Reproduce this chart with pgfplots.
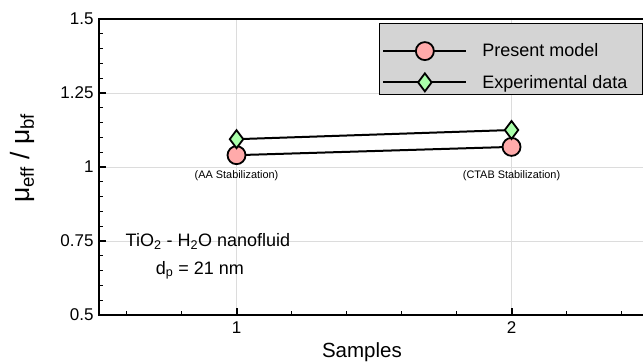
\documentclass[border=0pt]{standalone}
\usepackage{pgfplots}
\pgfplotsset{compat=1.18}
\usepackage{fontspec}
\setmainfont{Liberation Sans}
\definecolor{pinkfill}{RGB}{255,170,170}
\definecolor{greenfill}{RGB}{170,255,170}
\definecolor{legfill}{RGB}{212,212,212}
\definecolor{gridc}{RGB}{220,220,220}
\begin{document}
\begin{tikzpicture}
\begin{axis}[
  scale only axis,
  width=550pt, height=296pt,
  xmin=0.5, xmax=2.5, ymin=0.5, ymax=1.5,
  xtick={1,2},
  minor xtick={0.6,0.8,1.2,1.4,1.6,1.8,2.2,2.4},
  ytick={0.5,0.75,1,1.25,1.5},
  minor ytick={0.55,0.6,0.65,0.7,0.8,0.85,0.9,0.95,1.05,1.1,1.15,1.2,1.3,1.35,1.4,1.45},
  xtick pos=bottom, ytick pos=left,
  /pgf/number format/assume math mode=true,
  tick label style={font=\fontsize{17}{20}\selectfont},
  yticklabel style={xshift=-2pt},
  xticklabel style={yshift=-3pt},
  tick align=inside,
  major tick length=7pt,
  minor tick length=4pt,
  every major tick/.style={line width=2pt, black},
  every minor tick/.style={line width=1.2pt, black},
  axis line style={line width=2.5pt},
  grid=major,
  major grid style={gridc, line width=1pt},
  xlabel={Samples},
  ylabel={μ\textsubscript{eff} / μ\textsubscript{bf}},
  xlabel style={font=\fontsize{20.5}{24}\selectfont, at={(axis description cs:0.478,-0.142)}, anchor=base},
  ylabel style={font=\fontsize{26.5}{30}\selectfont, at={(axis description cs:-0.14,0.53)}, anchor=center, rotate=0},
  legend style={at={(axis description cs:0.509,0.9875)}, anchor=north west,
    fill=legfill, draw=black, line width=0.8pt,
    font=\fontsize{18}{21}\selectfont, row sep=-3pt, column sep=13pt,
    inner xsep=3pt, inner ysep=3pt},
  legend cell align=left,
  legend image code/.code={
    \path (0pt,24pt);
    \draw[mark repeat=2, mark phase=2, #1, line width=2pt] plot coordinates {(0pt,0pt) (41.5pt,0pt) (83pt,0pt)};
  },
  clip=false,
]
\addplot[black, line width=2pt, mark=*, mark size=9pt,
  mark options={fill=pinkfill, draw=black, line width=1.8pt}]
  coordinates {(1,1.040) (2,1.068)};
\addlegendentry{Present model}
\addplot[black, line width=2pt, mark=diamond*, mark size=9pt,
  mark options={fill=greenfill, draw=black, line width=1.8pt}]
  coordinates {(1,1.094) (2,1.125)};
\addlegendentry{Experimental data\hspace*{10pt}}
\node[font=\fontsize{10.9}{13}\selectfont] at (axis cs:1,0.9706) {(AA Stabilization)};
\node[font=\fontsize{10.9}{13}\selectfont] at (axis cs:2,0.9706) {(CTAB Stabilization)};
\node[font=\fontsize{18}{21}\selectfont, anchor=base] at (axis cs:0.896,0.7307) {TiO\textsubscript{2} - H\textsubscript{2}O nanofluid};
\node[font=\fontsize{18}{21}\selectfont, anchor=base] at (axis cs:0.867,0.6375) {d\textsubscript{p} = 21 nm};
\coordinate (bbbl) at (axis cs:0.14,0.3446);
\coordinate (bbtr) at (axis cs:2.478,1.5642);
\end{axis}
\pgfresetboundingbox
\useasboundingbox (bbbl) rectangle (bbtr);
\end{tikzpicture}
\end{document}
